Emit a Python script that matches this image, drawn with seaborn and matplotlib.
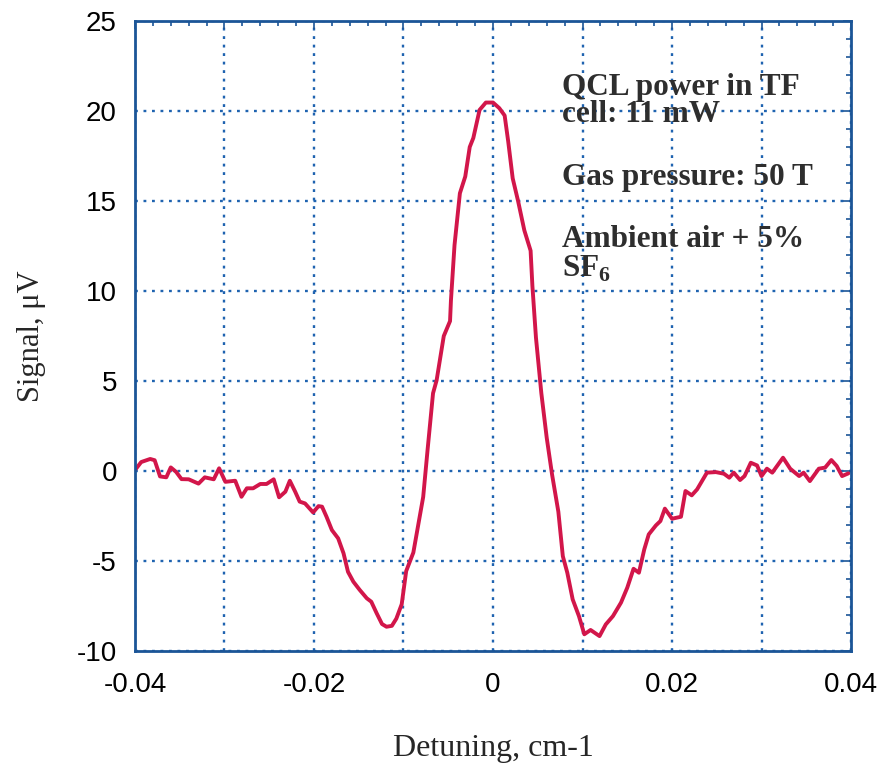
import matplotlib
matplotlib.use("Agg")
import matplotlib.pyplot as plt
from matplotlib.ticker import MultipleLocator
import seaborn as sns
import pandas as pd

detuning = [-0.0400, -0.0393, -0.0383, -0.0378, -0.0372, -0.0365, -0.0360, -0.0354, -0.0348,
            -0.0340, -0.0329, -0.0322, -0.0312, -0.0306, -0.0299, -0.0288, -0.0281, -0.0275,
            -0.0268, -0.0260, -0.0253, -0.0245, -0.0239, -0.0232, -0.0227, -0.0221, -0.0216,
            -0.0210, -0.0201, -0.0195, -0.0191, -0.0186, -0.0180, -0.0173, -0.0167, -0.0162,
            -0.0156, -0.0149, -0.0141, -0.0136, -0.0130, -0.0124, -0.0119, -0.0113, -0.0108,
            -0.0102, -0.0097, -0.0089, -0.0078, -0.0073, -0.0067, -0.0063, -0.0055, -0.0048,
            -0.0047, -0.0043, -0.0037, -0.0031, -0.0026, -0.0022, -0.0015, -0.0008, 0.0000,
            0.0007, 0.0013, 0.0017, 0.0022, 0.0028, 0.0035, 0.0042, 0.0044, 0.0048, 0.0054,
            0.0060, 0.0066, 0.0073, 0.0078, 0.0083, 0.0089, 0.0096, 0.0102, 0.0109, 0.0119,
            0.0126, 0.0134, 0.0143, 0.0150, 0.0157, 0.0163, 0.0169, 0.0174, 0.0182, 0.0187,
            0.0192, 0.0200, 0.0210, 0.0215, 0.0222, 0.0228, 0.0239, 0.0249, 0.0258, 0.0264,
            0.0269, 0.0276, 0.0281, 0.0288, 0.0295, 0.0300, 0.0306, 0.0312, 0.0324, 0.0332,
            0.0342, 0.0347, 0.0354, 0.0364, 0.0371, 0.0378, 0.0384, 0.0390, 0.0397]
signal = [0.05, 0.50, 0.67, 0.60, -0.30, -0.35, 0.20, -0.05, -0.45,
          -0.46, -0.70, -0.35, -0.46, 0.15, -0.60, -0.54, -1.43, -0.96,
          -0.96, -0.72, -0.72, -0.46, -1.46, -1.15, -0.54, -1.15, -1.70,
          -1.80, -2.30, -1.95, -1.98, -2.54, -3.28, -3.74, -4.57, -5.60,
          -6.15, -6.60, -7.07, -7.26, -7.90, -8.50, -8.65, -8.60, -8.20,
          -7.40, -5.56, -4.53, -1.44, 1.23, 4.32, 5.04, 7.50, 8.33,
          9.47, 12.55, 15.43, 16.36, 18.00, 18.50, 20.06, 20.47, 20.47,
          20.16, 19.75, 18.30, 16.26, 15.00, 13.37, 12.24, 10.29, 7.40, 4.32,
          1.85, -0.20, -2.26, -4.73, -5.65, -7.13, -8.06, -9.07, -8.83, -9.17,
          -8.52, -8.06, -7.31, -6.48, -5.43, -5.65, -4.35, -3.52, -3.02, -2.78,
          -2.09, -2.65, -2.54, -1.11, -1.35, -1.02, -0.09, -0.06, -0.15, -0.37,
          -0.09, -0.50, -0.28, 0.46, 0.31, -0.28, 0.13, -0.09, 0.74, 0.13,
          -0.28, -0.09, -0.56, 0.13, 0.19, 0.61, 0.28, -0.28, -0.13]

x_ticks = [-0.04, -0.02, 0, 0.02, 0.04]
x_tick_labels = ["-0.04", "-0.02", "0", "0.02", "0.04"]
y_ticks = [-10, -5, 0, 5, 10, 15, 20, 25]

df = pd.DataFrame({"Detuning": detuning, "Signal": signal})

sns.set_style("white")
plt.rcParams["mathtext.fontset"] = "custom"
plt.rcParams["mathtext.bf"] = "Liberation Serif:bold"
plt.rcParams["mathtext.rm"] = "Liberation Serif"

fig = plt.figure(figsize=(8.81, 7.69), dpi=100)
ax = fig.add_axes([0.1532, 0.1534, 0.8128, 0.8193])

sns.lineplot(data=df, x="Detuning", y="Signal", ax=ax, color="#d2164a",
             linewidth=2.8, estimator=None, sort=False)

axis_blue = "#1b5597"
grid_blue = "#1f63b0"
ax.set_xlim(-0.04, 0.04)
ax.set_ylim(-10, 25)
ax.xaxis.set_minor_locator(MultipleLocator(0.002))
ax.yaxis.set_minor_locator(MultipleLocator(1))

xt = [round(i * 0.01, 2) for i in range(-4, 5)]
ax.set_xticks(xt)
ax.set_xticklabels([x_tick_labels[x_ticks.index(v)] if v in x_ticks else "" for v in xt])
ax.set_yticks(y_ticks)
ax.set_yticklabels([str(v) for v in y_ticks])
ax.grid(True, which="major", color=grid_blue, linestyle=(0, (1.2, 2.4)), linewidth=1.7)

ax.tick_params(which="both", direction="in", top=True, right=True, color=axis_blue,
               width=1.2, labelcolor="black")
ax.tick_params(which="major", length=6, labelsize=20)
ax.tick_params(axis="x", which="major", pad=15)
ax.tick_params(axis="y", which="major", pad=13)
ax.tick_params(which="minor", length=3.5)
for lbl in ax.get_xticklabels() + ax.get_yticklabels():
    lbl.set_fontfamily("Liberation Sans")
for sp in ax.spines.values():
    sp.set_color(axis_blue)
    sp.set_linewidth(2)

ax.set_xlabel("Detuning, cm-1", fontsize=23, family="Liberation Serif", labelpad=26)
ax.set_ylabel("Signal, \u03bcV", fontsize=22, family="Liberation Serif", labelpad=22)

tkw = dict(transform=ax.transAxes, fontsize=22.5, fontweight="bold",
           family="Liberation Serif", color="#2e2e2e", va="center", ha="left")
ax.text(0.597, 0.895, "QCL power in TF", **tkw)
ax.text(0.597, 0.851, "cell: 11 mW", **tkw)
ax.text(0.597, 0.751, "Gas pressure: 50 T", **tkw)
ax.text(0.597, 0.653, "Ambient air + 5%", **tkw)
ax.text(0.597, 0.607, "SF$_\\mathbf{6}$", **tkw)

fig.savefig("out.png", dpi=100)
